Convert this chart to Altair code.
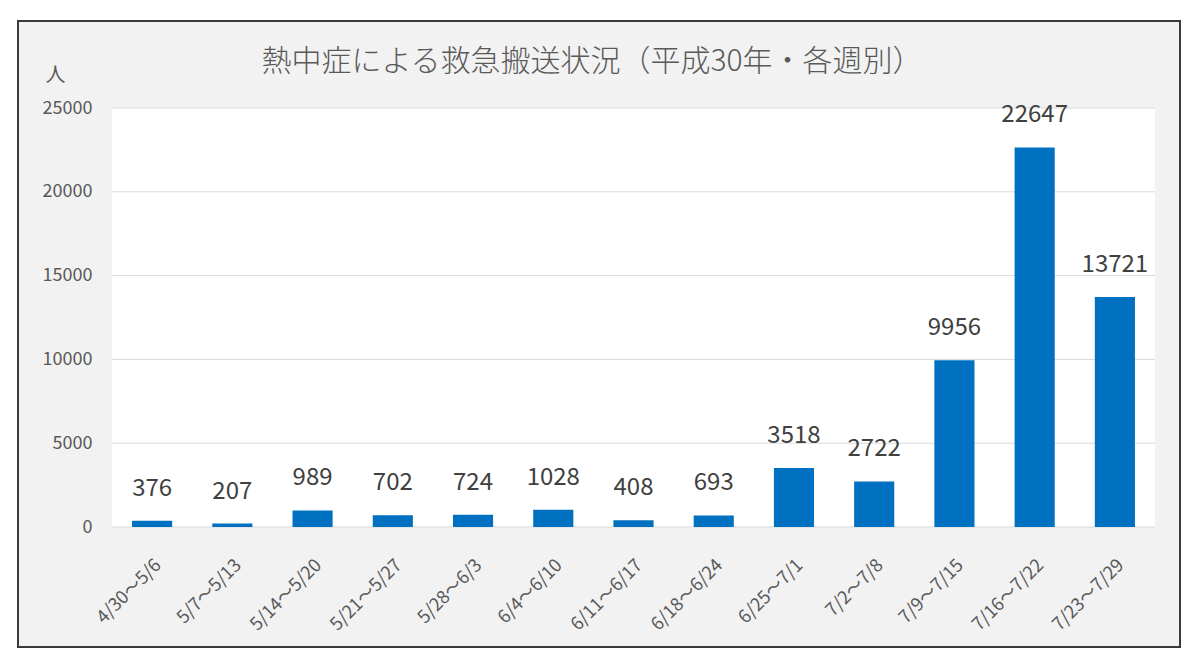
import altair as alt
import pandas as pd

weeks = ["4/30～5/6", "5/7～5/13", "5/14～5/20", "5/21～5/27", "5/28～6/3",
         "6/4～6/10", "6/11～6/17", "6/18～6/24", "6/25～7/1", "7/2～7/8",
         "7/9～7/15", "7/16～7/22", "7/23～7/29"]
counts = [376, 207, 989, 702, 724, 1028, 408, 693, 3518, 2722, 9956, 22647, 13721]
y_ticks = [0, 5000, 10000, 15000, 20000, 25000]
title_text = "熱中症による救急搬送状況（平成30年・各週別）"

W, H = 1043, 419
FONT = "Noto Sans CJK JP"
GRAY = "#595959"

df = pd.DataFrame({"week": weeks, "count": counts})
grid_df = pd.DataFrame({"count": y_ticks})
one = alt.Data(values=[{"a": 1}])

x = alt.X("week:N", sort=weeks,
          scale=alt.Scale(paddingInner=0.5, paddingOuter=0.25),
          axis=alt.Axis(title=None, labelAngle=-45, labelFontSize=18, labelColor=GRAY,
                        labelFont=FONT, domain=False, ticks=False, labelPadding=29, zindex=1))
y = alt.Y("count:Q", scale=alt.Scale(domain=[0, 25000], nice=False),
          axis=alt.Axis(values=y_ticks, grid=False, domain=False, ticks=False,
                        labelPadding=20, labelFontSize=18, labelColor=GRAY, labelFont=FONT,
                        title="人", titleAngle=0, titleX=-57, titleY=-33, titleFontSize=20,
                        titleFontWeight="normal", titleColor=GRAY, titleFont=FONT,
                        titleAlign="center", titleBaseline="middle", zindex=1, format="d"))

frame = alt.Chart(one).mark_rect(fill="#F2F2F2", stroke="#3A3A3A", strokeWidth=2).encode(
    x=alt.value(-94), x2=alt.value(1068), y=alt.value(-87), y2=alt.value(539))
plotbg = alt.Chart(one).mark_rect(fill="white").encode(
    x=alt.value(0), x2=alt.value(W), y=alt.value(0), y2=alt.value(H))
title = alt.Chart(one).mark_text(fontSize=30, font=FONT, fontWeight=300, color=GRAY,
                                 align="center", baseline="middle").encode(
    x=alt.value(480), y=alt.value(-46), text=alt.value(title_text))
grid = alt.Chart(grid_df).mark_rule(color="#D9D9D9", strokeWidth=1).encode(
    y=y, x=alt.value(0), x2=alt.value(W))
bars = alt.Chart(df).mark_bar(color="#0070C0").encode(x=x, y=y)
labels = alt.Chart(df).mark_text(dy=-32, fontSize=24, color="#404040", font=FONT,
                                 baseline="middle").encode(x=x, y=y, text=alt.Text("count:Q", format="d"))

chart = alt.layer(frame, plotbg, title, grid, bars, labels).properties(
    width=W, height=H,
    autosize=alt.AutoSizeParams(type="none"),
    padding={"left": 112, "top": 108, "right": 45, "bottom": 142},
    background="white",
).configure_view(stroke=None)

chart.save("out.html", embed_options={"renderer": "svg", "actions": False})
